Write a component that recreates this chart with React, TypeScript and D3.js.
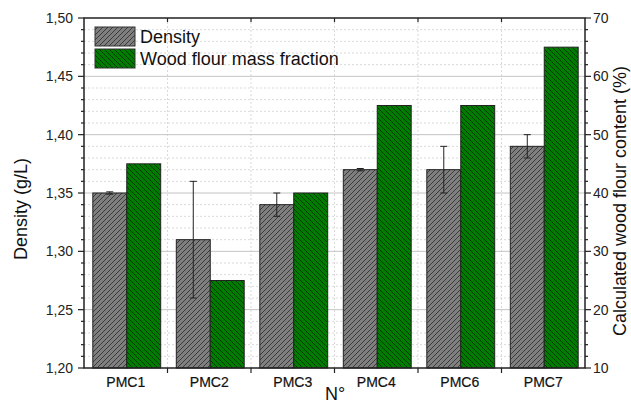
import React from "react";
import * as d3 from "d3";

const categories = ["PMC1", "PMC2", "PMC3", "PMC4", "PMC6", "PMC7"];
const densityValues = [1.35, 1.31, 1.34, 1.37, 1.37, 1.39];
const densityErrors = [0.001, 0.05, 0.01, 0.001, 0.02, 0.01];
const woodFlourValues = [45, 25, 40, 55, 55, 65];
const leftTicks = [1.2, 1.25, 1.3, 1.35, 1.4, 1.45, 1.5];
const rightTicks = [10, 20, 30, 40, 50, 60, 70];
const seriesNames = ["Density", "Wood flour mass fraction"];

const W = 631;
const H = 405;
const M = { left: 84, right: 585, top: 18, bottom: 368 };
const FONT = "'Liberation Sans', Arial, Helvetica, sans-serif";

export default function App() {
  const x = d3.scaleBand<string>().domain(categories).range([M.left, M.right]).padding(0);
  const x1 = d3
    .scaleBand<string>()
    .domain(["d", "w"])
    .range([0, x.bandwidth()])
    .paddingInner(0)
    .paddingOuter(0.23);
  const yL = d3.scaleLinear().domain([1.2, 1.5]).range([M.bottom, M.top]);
  const yR = d3.scaleLinear().domain([10, 70]).range([M.bottom, M.top]);
  const fmtL = (v: number) => d3.format(".2f")(v).replace(".", ",");

  const minorL = d3.range(1.2, 1.5001, 0.01).map((v) => +v.toFixed(3));
  const minorR = d3.range(10, 70.001, 2);
  const bw = x1.bandwidth();
  const shift = 1;

  return (
    <div style={{ position: "absolute", left: 0, top: 0 }}>
      <svg width={W} height={H} style={{ display: "block", background: "#fff" }} fontFamily={FONT}>
        <defs>
          <pattern id="hatchGray" patternUnits="userSpaceOnUse" width={5} height={5}>
            <rect width={5} height={5} fill="#7f7f7f" />
            <path d="M0,5 L5,0 M-1,1 L1,-1 M4,6 L6,4" stroke="#2a2a2a" strokeWidth={0.8} />
          </pattern>
          <pattern id="hatchGreen" patternUnits="userSpaceOnUse" width={5} height={5}>
            <rect width={5} height={5} fill="#007d00" />
            <path d="M0,0 L5,5 M-1,4 L1,6 M4,-1 L6,1" stroke="#002800" strokeWidth={0.8} />
          </pattern>
        </defs>

        {minorL
          .filter((v) => !leftTicks.some((t) => Math.abs(t - v) < 1e-6))
          .map((v, i) => (
            <line
              key={"mg" + i}
              x1={M.left}
              x2={M.right}
              y1={yL(v)}
              y2={yL(v)}
              stroke="#cfcfcf"
              strokeWidth={0.8}
              strokeDasharray="2,2"
            />
          ))}
        {categories.slice(1).map((c) => (
          <line
            key={"vg" + c}
            x1={x(c)!}
            x2={x(c)!}
            y1={M.top}
            y2={M.bottom}
            stroke="#cfcfcf"
            strokeWidth={0.8}
            strokeDasharray="2,2"
          />
        ))}
        {leftTicks.slice(1, -1).map((v) => (
          <line key={"MG" + v} x1={M.left} x2={M.right} y1={yL(v)} y2={yL(v)} stroke="#c4c4c4" strokeWidth={1} />
        ))}

        {categories.map((c, i) => {
          const gx = x(c)! + shift;
          return (
            <g key={c}>
              <rect
                x={gx + x1("d")!}
                y={yL(densityValues[i])}
                width={bw}
                height={M.bottom - yL(densityValues[i])}
                fill="url(#hatchGray)"
                stroke="#222"
                strokeWidth={1}
              />
              <rect
                x={gx + x1("w")!}
                y={yR(woodFlourValues[i])}
                width={bw}
                height={M.bottom - yR(woodFlourValues[i])}
                fill="url(#hatchGreen)"
                stroke="#222"
                strokeWidth={1}
              />
            </g>
          );
        })}

        {categories.map((c, i) => {
          const cx = x(c)! + shift + x1("d")! + bw / 2;
          const top = yL(densityValues[i] + densityErrors[i]);
          const bot = yL(densityValues[i] - densityErrors[i]);
          return (
            <g key={"e" + c} stroke="#222" strokeWidth={1}>
              <line x1={cx} x2={cx} y1={top} y2={bot} />
              <line x1={cx - 3.5} x2={cx + 3.5} y1={top} y2={top} />
              <line x1={cx - 3.5} x2={cx + 3.5} y1={bot} y2={bot} />
            </g>
          );
        })}

        <rect
          x={M.left}
          y={M.top}
          width={M.right - M.left}
          height={M.bottom - M.top}
          fill="none"
          stroke="#222"
          strokeWidth={1.5}
        />

        {minorL.map((v, i) => {
          const major = leftTicks.some((t) => Math.abs(t - v) < 1e-6);
          return (
            <line
              key={"lt" + i}
              x1={M.left - (major ? 6 : 3)}
              x2={M.left}
              y1={yL(v)}
              y2={yL(v)}
              stroke="#222"
              strokeWidth={1.2}
            />
          );
        })}
        {leftTicks.map((v) => (
          <text key={"ll" + v} x={73} y={yL(v)} dy="0.36em" textAnchor="end" fontSize={14} fill="#222">
            {fmtL(v)}
          </text>
        ))}

        {minorR.map((v, i) => {
          const major = rightTicks.some((t) => Math.abs(t - v) < 1e-6);
          return (
            <line
              key={"rt" + i}
              x1={M.right}
              x2={M.right + (major ? 6 : 3)}
              y1={yR(v)}
              y2={yR(v)}
              stroke="#222"
              strokeWidth={1.2}
            />
          );
        })}
        {rightTicks.map((v) => (
          <text key={"rl" + v} x={593} y={yR(v)} dy="0.36em" textAnchor="start" fontSize={14} fill="#222">
            {v}
          </text>
        ))}

        {categories.slice(1).map((c) => (
          <g key={"bt" + c} stroke="#222" strokeWidth={1.2}>
            <line x1={x(c)!} x2={x(c)!} y1={M.bottom} y2={M.bottom + 5} />
            <line x1={x(c)!} x2={x(c)!} y1={M.top} y2={M.top + 4} />
          </g>
        ))}
        {categories.map((c) => (
          <text
            key={"cl" + c}
            x={x(c)! + x.bandwidth() / 2}
            y={387}
            textAnchor="middle"
            fontSize={14}
            fill="#111"
            stroke="#111"
            strokeWidth={0.2}
          >
            {c}
          </text>
        ))}

        <text x={335} y={400} textAnchor="middle" fontSize={18} fill="#111">
          N°
        </text>
        <text transform="translate(27,209) rotate(-90)" textAnchor="middle" fontSize={18} fill="#111">
          Density (g/L)
        </text>
        <text transform="translate(626,201) rotate(-90)" textAnchor="middle" fontSize={18} fill="#111">
          Calculated wood flour content (%)
        </text>

        <rect x={95} y={27} width={40} height={19} fill="url(#hatchGray)" stroke="#333" strokeWidth={1} />
        <rect x={95} y={49} width={40} height={19} fill="url(#hatchGreen)" stroke="#333" strokeWidth={1} />
        <text x={140} y={43} fontSize={18} fill="#111">
          {seriesNames[0]}
        </text>
        <text x={140} y={65} fontSize={18} fill="#111">
          {seriesNames[1]}
        </text>
      </svg>
    </div>
  );
}
